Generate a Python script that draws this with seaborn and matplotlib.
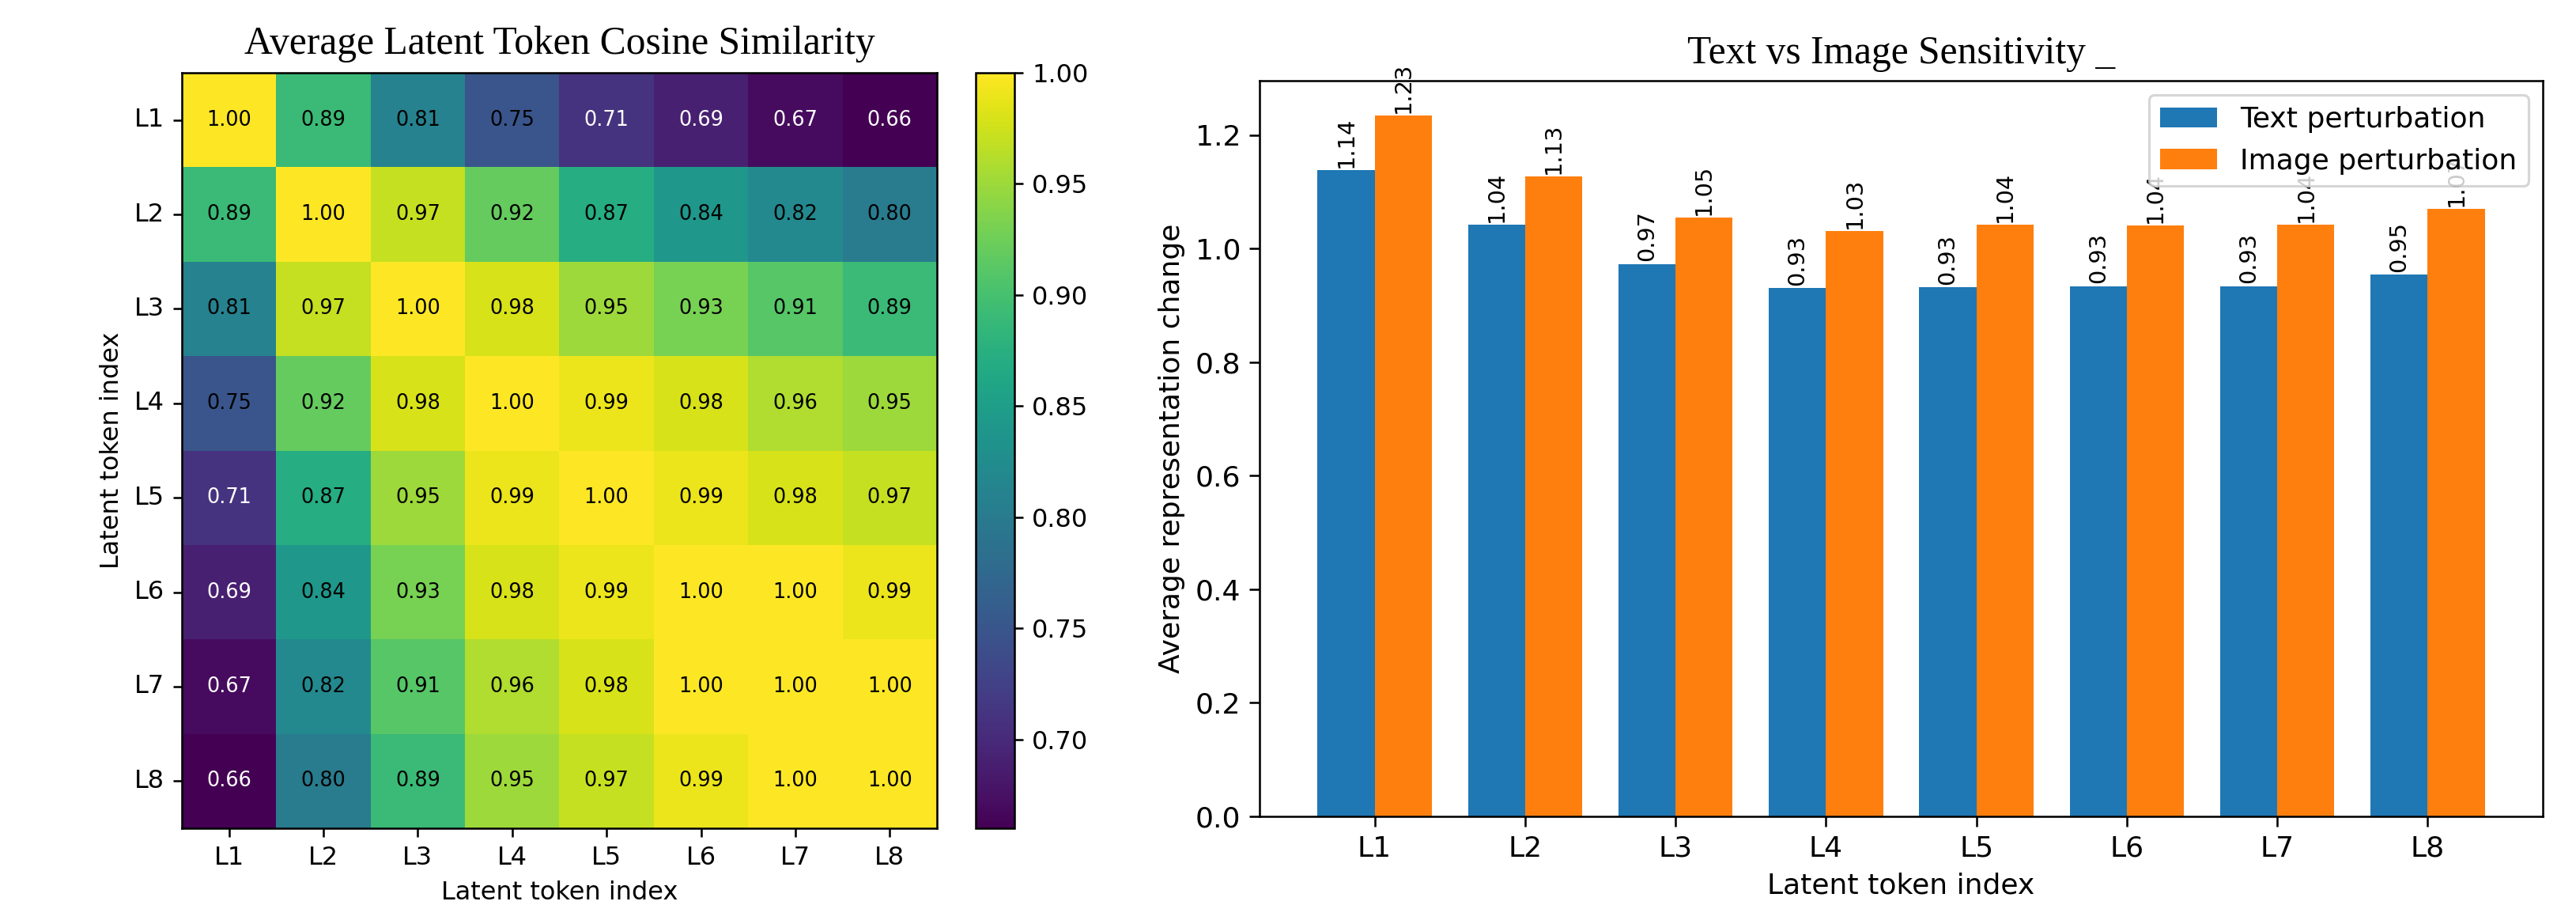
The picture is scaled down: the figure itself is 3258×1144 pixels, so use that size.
import numpy as np
import pandas as pd
import matplotlib
matplotlib.use('Agg')
import matplotlib.pyplot as plt
import seaborn as sns

tokens = ['L1', 'L2', 'L3', 'L4', 'L5', 'L6', 'L7', 'L8']

sim_l1 = [1.00, 0.89, 0.81, 0.75, 0.71, 0.69, 0.67, 0.66]
sim_l2 = [0.89, 1.00, 0.97, 0.92, 0.87, 0.84, 0.82, 0.80]
sim_l3 = [0.81, 0.97, 1.00, 0.98, 0.95, 0.93, 0.91, 0.89]
sim_l4 = [0.75, 0.92, 0.98, 1.00, 0.99, 0.98, 0.96, 0.95]
sim_l5 = [0.71, 0.87, 0.95, 0.99, 1.00, 0.99, 0.98, 0.97]
sim_l6 = [0.69, 0.84, 0.93, 0.98, 0.99, 1.00, 1.00, 0.99]
sim_l7 = [0.67, 0.82, 0.91, 0.96, 0.98, 1.00, 1.00, 1.00]
sim_l8 = [0.66, 0.80, 0.89, 0.95, 0.97, 0.99, 1.00, 1.00]

text_change = [1.138, 1.042, 0.973, 0.931, 0.932, 0.934, 0.934, 0.954]
image_change = [1.234, 1.127, 1.055, 1.031, 1.042, 1.041, 1.042, 1.070]

sim = pd.DataFrame([sim_l1, sim_l2, sim_l3, sim_l4, sim_l5, sim_l6, sim_l7, sim_l8],
                   index=tokens, columns=tokens)

df = pd.DataFrame({
    'token': tokens * 2,
    'change': text_change + image_change,
    'kind': ['Text perturbation'] * 8 + ['Image perturbation'] * 8,
})

W, H, DPI = 3258, 1144, 230
fig = plt.figure(figsize=(W / DPI, H / DPI), dpi=DPI)

def box(x0, y0, x1, y1):
    return [x0 / W, 1 - y1 / H, (x1 - x0) / W, (y1 - y0) / H]

ax1 = fig.add_axes(box(230, 92, 1185, 1047))
cax = fig.add_axes(box(1234, 92, 1283, 1047))
ax2 = fig.add_axes(box(1593, 102, 3216, 1032))

# heatmap
sns.heatmap(sim, ax=ax1, cbar_ax=cax, cmap='viridis', annot=True, fmt='.2f',
            annot_kws={'size': 8})
for t in ax1.texts:
    t.set_color('white' if float(t.get_text()) < 0.73 else 'black')
for s in ax1.spines.values():
    s.set_visible(True)
    s.set_linewidth(0.8)
ax1.tick_params(labelsize=10)
ax1.set_yticklabels(tokens, rotation=0)
ax1.set_xlabel('Latent token index', fontsize=10)
ax1.set_ylabel('Latent token index', fontsize=10)
ax1.set_title('Average Latent Token Cosine Similarity', family='Liberation Serif',
              fontsize=15.5, pad=7.5)
cbar = ax1.collections[0].colorbar
cbar.outline.set_visible(True)
cbar.outline.set_linewidth(0.8)
cbar.set_ticks([0.70, 0.75, 0.80, 0.85, 0.90, 0.95, 1.00])
cax.tick_params(labelsize=10)

# bars
fs = 11.3
sns.barplot(data=df, x='token', y='change', hue='kind', ax=ax2,
            palette=['#1f77b4', '#ff7f0e'], saturation=1, width=0.76,
            errorbar=None)
for c in ax2.containers:
    ax2.bar_label(c, fmt='%.2f', rotation=90, fontsize=9, padding=1)
ax2.set_xlim(-0.765, 7.765)
ax2.set_ylim(0, max(image_change) * 1.05)
ax2.tick_params(labelsize=fs, length=4)
ax2.set_xlabel('Latent token index', fontsize=fs)
ax2.set_ylabel('Average representation change', fontsize=fs)
ax2.legend(title=None, loc='upper right', fontsize=fs)
ax2.set_title('Text vs Image Sensitivity _', family='Liberation Serif',
              fontsize=15.5, pad=7)

fig.savefig('out.png', dpi=DPI)
